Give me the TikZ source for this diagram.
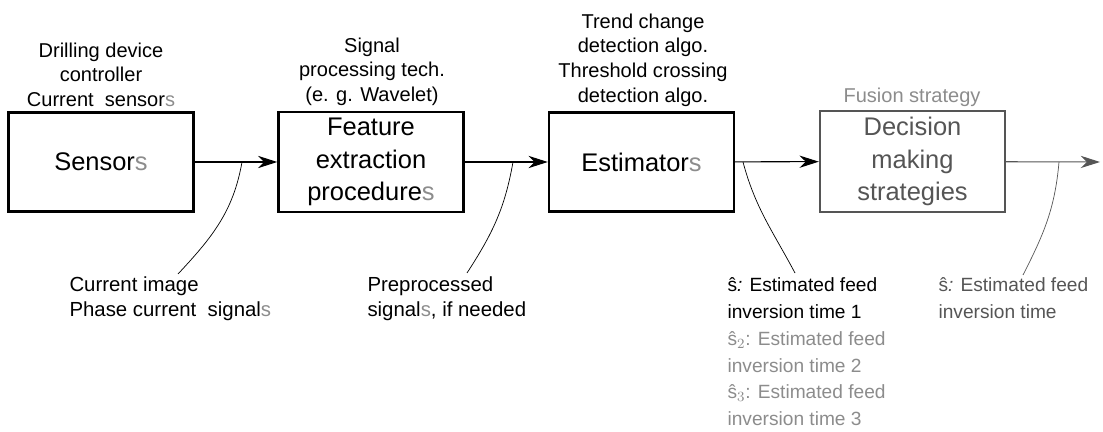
\documentclass[tikz,border=0pt]{standalone}
\usepackage{fontspec}
\setmainfont{Liberation Sans}
\usetikzlibrary{arrows.meta,positioning}
\definecolor{lgray}{HTML}{8C8C8C}
\definecolor{dgray}{HTML}{555555}
\newcommand{\gs}{\textcolor{lgray}{s}}
\tikzset{
  block/.style={draw,rectangle,line width=1.4pt,minimum width=3.7cm,minimum height=1.98cm,align=center,font=\fontsize{14.5}{18.5}\selectfont},
  toplbl/.style={anchor=north,inner sep=0pt,align=center,font=\fontsize{11.4}{14.2}\selectfont},
  botlbl/.style={anchor=north west,inner sep=0pt,align=left,font=\fontsize{11.6}{14.2}\selectfont},
  estlbl/.style={anchor=north west,inner sep=0pt,align=left,font=\fontsize{10.9}{15.3}\selectfont},
  lead/.style={line width=0.4pt}
}

\begin{document}
\begin{tikzpicture}[x=0.02cm,y=-0.02cm,>={Stealth[length=11pt,width=7pt]},line width=0.6pt]
  \useasboundingbox (0,0) rectangle (1103,432);

  \node[block] (sens) at (101,162) {Sensor\gs};
  \node[block] (feat) at (371,162) {Feature\\extraction\\procedure\gs};
  \node[block] (est) at (641.5,162) {Estimator\gs};
  \node[block,draw=dgray,text=dgray] (dec) at (912.5,161.5) {Decision\\making\\strategies};

  \node[toplbl] (sensTop) at (101,42) {Drilling device\\controller\\Current\ \ sensor\gs};
  \node[toplbl] (featTop) at (372,37) {Signal\\processing tech.\\(e. g. Wavelet)};
  \node[toplbl] (estTop) at (643,13) {Trend change\\detection algo.\\Threshold crossing\\detection algo.};
  \node[toplbl,text=lgray] (decTop) at (912,87) {Fusion strategy};

  \coordinate (out) at (1100,162);
  \draw[->] (sens) -- (feat);
  \draw[->] (feat) -- (est);
  \draw[->] (est) -- (dec);
  \draw[->,dgray] (dec) -- (out);

  \node[botlbl] (sig) at (69,276) {Current image\\Phase current\ \ signal\gs};
  \node[botlbl] (pre) at (367,276) {Preprocessed\\signal\gs, if needed};
  \node[estlbl] (shat) at (727,277) {ŝ\textit{:} Estimated feed\\inversion time 1\\
    \textcolor{lgray}{ŝ$_2$: Estimated feed}\\\textcolor{lgray}{inversion time 2}\\
    \textcolor{lgray}{ŝ$_3$: Estimated feed}\\\textcolor{lgray}{inversion time 3}};
  \node[estlbl,text=dgray] (fin) at (938,277) {ŝ\textit{:} Estimated feed\\inversion time};

  % leader lines
  \coordinate (c1) at (242,162);
  \coordinate (e1) at (178,274);
  \coordinate (c2) at (513,162);
  \coordinate (e2) at (467,273);
  \coordinate (c3) at (743,162);
  \coordinate (e3) at (795,273);
  \coordinate (c4) at (1059,162);
  \coordinate (e4) at (1023,275);
  \draw[lead] (c1) to[out=-100,in=47] (e1);
  \draw[lead] (c2) to[out=-100,in=57] (e2);
  \draw[lead] (c3) to[out=-75,in=118] (e3);
  \draw[lead,dgray] (c4) to[out=-95,in=63] (e4);
\end{tikzpicture}
\end{document}
